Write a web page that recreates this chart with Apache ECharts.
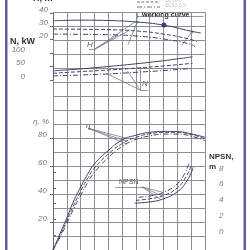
<!DOCTYPE html>
<html>
<head>
<meta charset="utf-8">
<script src="https://cdn.jsdelivr.net/npm/echarts@6/dist/echarts.min.js"></script>
<style>
  html, body { margin: 0; padding: 0; background: #fff; }
  #chart { width: 250px; height: 250px; }
</style>
</head>
<body>
<div id="chart"></div>
<script>
  // flow positions are in grid columns (0..11), no flow labels on the sheet
  const flowH = [0, 2, 4, 6, 8, 10, 10.7]
  const headSolid = [34.0, 34.5, 34.2, 33.1, 30.7, 26.0, 24.6]
  const flowH2 = [0, 2, 4, 6, 8, 10, 10.4]
  const headDashed = [27.7, 27.5, 27.2, 26.2, 23.8, 19.6, 17.7]
  const flowH3 = [0, 2, 4, 6, 8, 10, 10.3]
  const headDashDot = [23.8, 23.6, 23.3, 22.3, 20.0, 15.8, 13.8]

  const flowN = [0, 2, 4, 6, 8, 10.1]
  const powerSolid = [34, 41, 50, 60, 71.5, 86]
  const powerDashed = [25, 31, 37, 44, 52, 62]
  const powerDashDot = [15, 18.5, 22.5, 28.5, 35, 43]

  const flowEff = [0, 0.5, 1, 1.5, 2, 2.5, 3, 4, 5, 6, 7, 8, 9, 10, 11]
  const effSolid = [0, 11.5, 23, 35, 45, 54, 61.5, 71, 78.5, 82, 84, 84.7, 84.5, 83, 80.5]
  const effDashed = [0, 10, 21, 32, 42, 51, 58.5, 68.5, 76, 80.5, 83, 84, 84, 82.5, 79.5]
  const effDashDot = [0, 9, 19, 29.5, 39, 48, 55.5, 66, 74, 79, 81.5, 82.8, 82.8, 81.3, 78]

  const flowNpsh1 = [5.9, 7, 8, 9, 9.7, 10.15]
  const npsh1 = [4.05, 4.2, 4.6, 5.5, 6.9, 8.6]
  const flowNpsh2 = [6.0, 7, 8, 9, 9.6, 10.0]
  const npsh2 = [4.4, 4.6, 5.0, 6.0, 7.3, 8.8]
  const flowNpsh3 = [6.2, 7, 8, 9, 9.5, 9.85]
  const npsh3 = [4.8, 4.95, 5.4, 6.5, 7.7, 9.1]

  // working point and limits of the working range
  const dutyPoint = [[8.03, 30.8]]
  const rangeMarks = [[6.08, 33.1], [10.06, 25.4]]

  // leader lines [from, to] in each panel's own units
  const headLeaders = [[[3.04, 12.3], [5.93, 33.1]], [[3.04, 12.3], [5.57, 26.9]], [[3.04, 12.3], [4.7, 23.1]], [[2.6, 12.3], [3.04, 12.3]],
    [[6.08, 33.1], [5.43, 15.4]], [[10.06, 25.4], [9.33, 15.4]], [[6.08, 40], [6.08, 35.6]], [[6.08, 37.4], [10.9, 37.4]]]
  const powerLeaders = [[[6.3, -37], [3.9, 24]], [[6.3, -37], [5.4, 33]], [[6.3, -37], [6.3, 48]], [[6.3, -37], [6.9, -37]]]
  const effLeaders = [[[2.53, 87], [5.35, 79.7]], [[2.53, 87], [5.35, 77.6]], [[2.53, 87], [5.35, 75.7]]]
  const npshLeaders = [[[6.44, 6.1], [7.8, 4.52]], [[6.44, 6.1], [7.9, 4.96]], [[6.44, 6.1], [8.0, 5.4]], [[4.5, 6.1], [6.44, 6.1]]]

  const headTicks = { min: 20, max: 40, interval: 10 }
  const powerTicks = { min: 0, max: 100, interval: 50 }
  const effTicks = { min: 0, max: 80, interval: 20 }
  const npshTicks = { min: 0, max: 8, interval: 2 }

  const ink = '#3f4262'
  const dashDot = [5, 2, 1, 2]
  const labelFont = { fontFamily: 'Liberation Sans', fontStyle: 'italic', fontSize: 8, color: '#777' }

  const zip = (xs, ys) => xs.map((x, i) => [x, ys[i]])

  function curve (name, grid, xs, ys, type, color) {
    return {
      name: name,
      type: 'line',
      xAxisIndex: grid,
      yAxisIndex: grid,
      data: zip(xs, ys),
      smooth: true,
      showSymbol: false,
      clip: false,
      silent: true,
      lineStyle: { color: color || ink, width: 1, type: type }
    }
  }

  function leaders (grid, segs) {
    return {
      type: 'lines',
      coordinateSystem: 'cartesian2d',
      xAxisIndex: grid,
      yAxisIndex: grid,
      clip: false,
      silent: true,
      lineStyle: { color: '#6a6a80', width: 0.7, opacity: 1 },
      data: segs.map(s => ({ coords: s }))
    }
  }

  function sideAxis (grid, ticks, position, offset, margin, showMin) {
    return {
      type: 'value',
      gridIndex: grid,
      min: ticks.min,
      max: ticks.max,
      interval: ticks.interval,
      position: position,
      offset: offset,
      axisLine: { show: true, lineStyle: { color: '#666', width: 1 } },
      axisTick: { show: true, length: 3, lineStyle: { color: '#666' } },
      splitLine: { show: false },
      axisLabel: Object.assign({ margin: margin, verticalAlign: 'bottom', lineHeight: 7, showMinLabel: showMin }, labelFont)
    }
  }

  const hiddenX = g => ({ type: 'value', gridIndex: g, min: 0, max: 11, show: false })

  const chart = echarts.init(document.getElementById('chart'), null, { renderer: 'canvas' })

  const option = {
    animation: false,
    grid: [
      { left: 53, right: 45, top: 12, bottom: 0, show: false },
      { left: 53, right: 45, top: 13, height: 26 },
      { left: 53, right: 45, top: 53, height: 27 },
      { left: 53, right: 45, top: 138, bottom: 0 },
      { left: 53, right: 45, top: 172, height: 63 }
    ],
    xAxis: [
      {
        type: 'value', gridIndex: 0, min: 0, max: 11, interval: 1,
        axisLine: { show: false }, axisTick: { show: false }, axisLabel: { show: false },
        splitLine: { show: true, lineStyle: { color: '#8d8d95', width: 1 } }
      },
      hiddenX(1), hiddenX(2), hiddenX(3), hiddenX(4)
    ],
    yAxis: [
      {
        type: 'value', gridIndex: 0, min: 0, max: 17, interval: 1,
        axisLine: { show: false }, axisTick: { show: false }, axisLabel: { show: false },
        splitLine: { show: true, lineStyle: { color: '#8d8d95', width: 1 } }
      },
      sideAxis(1, headTicks, 'left', 4, 1, true),
      sideAxis(2, powerTicks, 'left', 27, 1, true),
      sideAxis(3, effTicks, 'left', 5, 1, false),
      sideAxis(4, npshTicks, 'right', 10, 4, true)
    ],
    graphic: [
      { type: 'rect', shape: { x: 5, y: 0, width: 2.5, height: 250 }, style: { fill: '#5b5e95' } },
      { type: 'rect', shape: { x: 243.5, y: 0, width: 2.5, height: 250 }, style: { fill: '#5b5e95' } },
      { type: 'text', x: 33, y: -6, style: { text: 'H, m', font: 'bold 9px Liberation Sans', fill: '#333' } },
      { type: 'text', x: 10, y: 37, style: { text: 'N, kW', font: 'bold 9px Liberation Sans', fill: '#333' } },
      { type: 'text', x: 33, y: 118, style: { text: 'η, %', font: 'italic 8px Liberation Sans', fill: '#777' } },
      { type: 'text', x: 209, y: 153, style: { text: 'NPSN,', font: 'bold 8px Liberation Sans', fill: '#333' } },
      { type: 'text', x: 209, y: 163, style: { text: 'm', font: 'bold 8px Liberation Sans', fill: '#333' } },
      { type: 'text', x: 142, y: 12, style: { text: 'working curve', font: 'bold 7px Liberation Sans', fill: '#222' } },
      { type: 'text', x: 87, y: 41, style: { text: 'H', font: 'italic 8px Liberation Sans', fill: '#555' } },
      { type: 'text', x: 142, y: 80, style: { text: 'N', font: 'italic 8px Liberation Sans', fill: '#555' } },
      { type: 'text', x: 86, y: 122, style: { text: 'η', font: 'italic 8px Liberation Sans', fill: '#555' } },
      { type: 'text', x: 119, y: 179, style: { text: 'NPSN', font: '7px Liberation Sans', fill: '#444' } },
      // key at the top edge
      { type: 'line', shape: { x1: 137, y1: 2, x2: 160, y2: 2 }, style: { stroke: '#777', lineWidth: 1, lineDash: [3, 1.5] } },
      { type: 'line', shape: { x1: 137, y1: 7, x2: 160, y2: 7 }, style: { stroke: '#777', lineWidth: 1, lineDash: dashDot } },
      { type: 'text', x: 162, y: -2, style: { text: '- Ø262-6', font: '5px Liberation Sans', fill: '#c4c4c4' } },
      { type: 'text', x: 162, y: 3, style: { text: '- Ø250-6,5', font: '5px Liberation Sans', fill: '#c4c4c4' } }
    ],
    series: [
      curve('H', 1, flowH, headSolid, 'solid'),
      curve('H2', 1, flowH2, headDashed, 'dashed'),
      curve('H3', 1, flowH3, headDashDot, dashDot),
      curve('N', 2, flowN, powerSolid, 'solid'),
      curve('N2', 2, flowN, powerDashed, 'dashed'),
      curve('N3', 2, flowN, powerDashDot, dashDot),
      curve('eta', 3, flowEff, effSolid, 'solid'),
      curve('eta2', 3, flowEff, effDashed, 'dashed'),
      curve('eta3', 3, flowEff, effDashDot, dashDot),
      curve('npsh', 4, flowNpsh1, npsh1, 'solid'),
      curve('npsh2', 4, flowNpsh2, npsh2, 'dashed'),
      curve('npsh3', 4, flowNpsh3, npsh3, dashDot),
      leaders(1, headLeaders),
      leaders(2, powerLeaders),
      leaders(3, effLeaders),
      leaders(4, npshLeaders),
      {
        type: 'scatter', xAxisIndex: 1, yAxisIndex: 1, data: rangeMarks, symbol: 'diamond', symbolSize: 4,
        clip: false, silent: true, itemStyle: { color: '#3aa6a6' }
      },
      {
        type: 'scatter', xAxisIndex: 1, yAxisIndex: 1, data: dutyPoint, symbolSize: 5,
        clip: false, silent: true, itemStyle: { color: '#161a66' }
      }
    ]
  }

  chart.setOption(option)
</script>
</body>
</html>
